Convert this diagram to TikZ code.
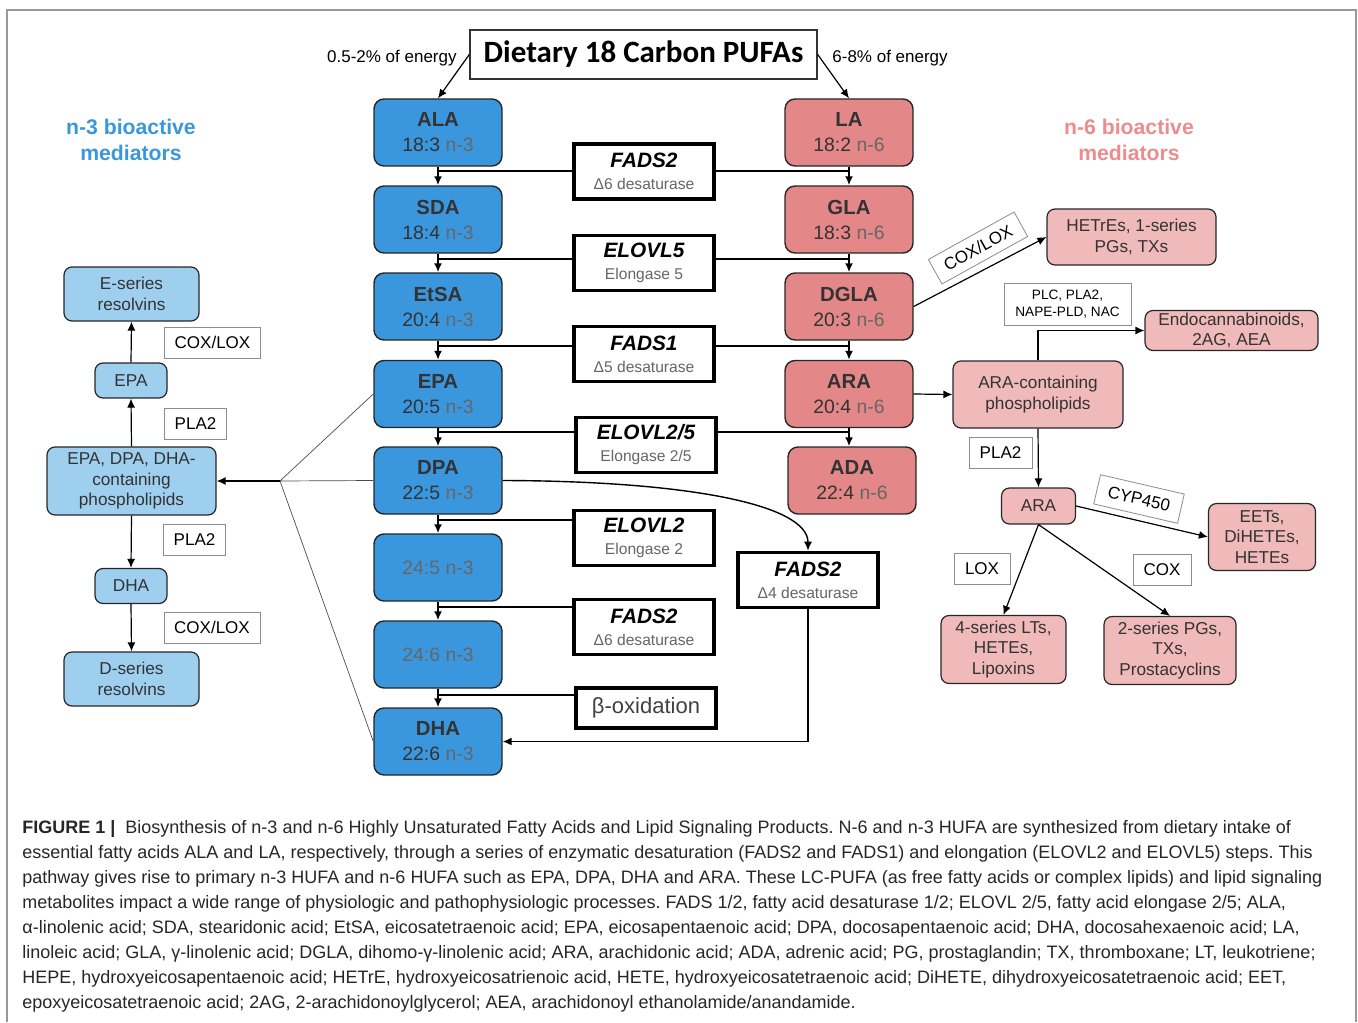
\documentclass[tikz,border=0pt]{standalone}
\usepackage{fontspec}
\setmainfont{Liberation Sans}
\newfontfamily\titlefont{Carlito}
\usetikzlibrary{arrows.meta}
\definecolor{nblue}{HTML}{3B97DD}
\definecolor{nred}{HTML}{E48788}
\definecolor{lblue}{HTML}{9FCFEF}
\definecolor{lpink}{HTML}{F0B9BA}
\definecolor{hblue}{HTML}{3A97DB}
\definecolor{hred}{HTML}{EC8C8E}
\definecolor{tdark}{HTML}{333333}
\definecolor{ngray}{HTML}{666666}
\newcommand{\facid}[3]{{\bfseries\fontsize{10.2}{12.5}\selectfont #1}\\#2 \textcolor{ngray}{#3}}
\newcommand{\enzlabel}[2]{{\bfseries\itshape #1}\\{\color{ngray}\fontsize{7.8}{9}\selectfont #2}}
\frenchspacing
\begin{document}
\begin{tikzpicture}[x=0.5pt,y=-0.5pt,>={Latex[length=4.5pt,width=4pt]},
  fathree/.style={draw=black!85,line width=0.7pt,rounded corners=5pt,fill=nblue,minimum width=64pt,minimum height=33.5pt,inner sep=0pt,align=center,text=tdark,font=\fontsize{9.7}{12.5}\selectfont},
  fasix/.style={fathree,fill=nred},
  enzbox/.style={draw,line width=1.8pt,fill=white,minimum width=70pt,minimum height=27.5pt,inner sep=0pt,align=center,font=\fontsize{10.4}{11}\selectfont},
  medthree/.style={draw=black!85,line width=0.6pt,rounded corners=4pt,fill=lblue,inner sep=0pt,align=center,text=tdark,font=\fontsize{8.6}{10.3}\selectfont},
  medsix/.style={medthree,fill=lpink},
  labbox/.style={draw=black!45,line width=0.4pt,fill=white,inner sep=0pt,font=\fontsize{8.5}{10}\selectfont},
  link/.style={line width=0.7pt},
  famove/.style={->,line width=1.3pt},
  thinarrow/.style={->,line width=0.6pt}]
\useasboundingbox (0,0) rectangle (1358,1022);
\draw[black!40,line width=0.6pt] (7,1022) -- (7,10) -- (1356,10) -- (1356,1022);

\node[draw=black!80,line width=0.7pt,minimum width=173.5pt,minimum height=24.5pt,inner sep=0pt,font=\titlefont\bfseries\fontsize{15.5}{18}\selectfont] (title) at (643.5,54.5) {Dietary 18 Carbon PUFAs};
\node[anchor=east,inner sep=0pt,font=\fontsize{8.5}{10}\selectfont] (lowE) at (457,58) {0.5-2\% of energy};
\node[anchor=west,inner sep=0pt,font=\fontsize{8.5}{10}\selectfont] (highE) at (832,58) {6-8\% of energy};
\node[text=hblue,align=center,font=\bfseries\fontsize{10.6}{13}\selectfont] (headthree) at (131,140) {n-3 bioactive\\mediators};
\node[text=hred,align=center,font=\bfseries\fontsize{10.6}{13}\selectfont] (headsix) at (1129,140) {n-6 bioactive\\mediators};

\node[fathree] (ALA) at (438,132.5) {\facid{ALA}{18:3}{n-3}};
\node[fathree] (SDA) at (438,219.5) {\facid{SDA}{18:4}{n-3}};
\node[fathree] (EtSA) at (438,306.5) {\facid{EtSA}{20:4}{n-3}};
\node[fathree] (EPA) at (438,394) {\facid{EPA}{20:5}{n-3}};
\node[fathree] (DPA) at (438,480.5) {\facid{DPA}{22:5}{n-3}};
\node[fathree] (tetrafive) at (438,567.5) {\textcolor{ngray}{24:5 n-3}};
\node[fathree] (tetrasix) at (438,654.5) {\textcolor{ngray}{24:6 n-3}};
\node[fathree] (DHA) at (438,741.5) {\facid{DHA}{22:6}{n-3}};

\node[fasix] (LA) at (849,132.5) {\facid{LA}{18:2}{n-6}};
\node[fasix] (GLA) at (849,219.5) {\facid{GLA}{18:3}{n-6}};
\node[fasix] (DGLA) at (849,306.5) {\facid{DGLA}{20:3}{n-6}};
\node[fasix] (ARA) at (849,394) {\facid{ARA}{20:4}{n-6}};
\node[fasix] (ADA) at (852,480.5) {\facid{ADA}{22:4}{n-6}};

\node[enzbox] (fadsA) at (644,171.5) {\enzlabel{FADS2}{Δ6 desaturase}};
\node[enzbox] (elovlA) at (644,263) {\enzlabel{ELOVL5}{Elongase 5}};
\node[enzbox] (fadsB) at (644,354) {\enzlabel{FADS1}{Δ5 desaturase}};
\node[enzbox] (elovlB) at (646,445) {\enzlabel{ELOVL2/5}{Elongase 2/5}};
\node[enzbox] (elovlC) at (644,538) {\enzlabel{ELOVL2}{Elongase 2}};
\node[enzbox] (fadsC) at (644,627) {\enzlabel{FADS2}{Δ6 desaturase}};
\node[enzbox,minimum height=20pt,text=black!75,font=\fontsize{11}{12}\selectfont] (betaox) at (646,708) {β-oxidation};
\node[enzbox] (fadsD) at (808,580) {\enzlabel{FADS2}{Δ4 desaturase}};

\node[medthree,minimum width=67.5pt,minimum height=27pt] (eres) at (131.5,294) {E-series\\resolvins};
\node[medthree,minimum width=36pt,minimum height=17.5pt] (epaS) at (131,380.5) {EPA};
\node[medthree,minimum width=84.5pt,minimum height=34pt] (phos) at (131.5,481) {EPA, DPA, DHA-\\containing\\phospholipids};
\node[medthree,minimum width=36pt,minimum height=17.5pt] (dhaS) at (131,586) {DHA};
\node[medthree,minimum width=67.5pt,minimum height=27pt] (dres) at (131.5,679) {D-series\\resolvins};
\node[labbox,minimum width=48pt,minimum height=15.5pt] (coxA) at (212.5,342.5) {COX/LOX};
\node[labbox,minimum width=31pt,minimum height=15.5pt] (plaA) at (195.5,423.5) {PLA2};
\node[labbox,minimum width=31pt,minimum height=15.5pt] (plaB) at (194.5,539.5) {PLA2};
\node[labbox,minimum width=48pt,minimum height=15.5pt] (coxB) at (212,627.5) {COX/LOX};

\node[medsix,minimum width=84.5pt,minimum height=28pt] (hetre) at (1131.5,237) {HETrEs, 1-series\\PGs, TXs};
\node[labbox,rotate=29,minimum width=49pt,minimum height=14pt] (coxC) at (978,248) {COX/LOX};
\node[labbox,minimum width=63.5pt,minimum height=21pt,align=center,font=\fontsize{6.8}{8.5}\selectfont] (plc) at (1067.5,304) {PLC, PLA2,\\NAPE-PLD, NAC};
\node[medsix,minimum width=86.5pt,minimum height=20pt] (endo) at (1231.5,330.5) {Endocannabinoids,\\2AG, AEA};
\node[medsix,minimum width=85pt,minimum height=33.5pt] (araP) at (1038,394.5) {ARA-containing\\phospholipids};
\node[labbox,minimum width=31.5pt,minimum height=15.5pt] (plaC) at (1000.5,452.5) {PLA2};
\node[medsix,minimum width=37pt,minimum height=18pt] (araS) at (1038.5,506) {ARA};
\node[labbox,rotate=-13,minimum width=43pt,minimum height=15pt] (cyp) at (1139,499) {CYP450};
\node[medsix,minimum width=53.5pt,minimum height=33.5pt] (eets) at (1262,537) {EETs,\\DiHETEs,\\HETEs};
\node[labbox,minimum width=28pt,minimum height=15.5pt] (lox) at (982,568.5) {LOX};
\node[labbox,minimum width=29pt,minimum height=15.5pt] (coxD) at (1162,569.5) {COX};
\node[medsix,minimum width=62.5pt,minimum height=34pt] (fourS) at (1003.5,649.5) {4-series LTs,\\HETEs,\\Lipoxins};
\node[medsix,minimum width=66pt,minimum height=34pt] (twoS) at (1170,650.5) {2-series PGs,\\TXs,\\Prostacyclins};

\coordinate (jA) at (438,171);
\coordinate (jB) at (438,259);
\coordinate (jC) at (438,346);
\coordinate (jD) at (438,432);
\coordinate (jE) at (438,520);
\coordinate (jF) at (438,607);
\coordinate (jG) at (438,695);
\coordinate (hub) at (280,481);

\draw[thinarrow] (title.west) -- (ALA.north);
\draw[thinarrow] (title.east) -- (LA.north);
\draw[famove] (ALA.south) -- (SDA.north);
\draw[famove] (SDA.south) -- (EtSA.north);
\draw[famove] (EtSA.south) -- (EPA.north);
\draw[famove] (EPA.south) -- (DPA.north);
\draw[famove] (DPA.south) -- (tetrafive.north);
\draw[famove] (tetrafive.south) -- (tetrasix.north);
\draw[famove] (tetrasix.south) -- (DHA.north);
\draw[famove] (LA.south) -- (GLA.north);
\draw[famove] (GLA.south) -- (DGLA.north);
\draw[famove] (DGLA.south) -- (ARA.north);
\draw[famove] (ARA.south) -- (ARA.south |- ADA.north);
\draw[link] (jA) -- (jA -| fadsA.west) (jA -| fadsA.east) -- (jA -| LA.south);
\draw[link] (jB) -- (jB -| elovlA.west) (jB -| elovlA.east) -- (jB -| GLA.south);
\draw[link] (jC) -- (jC -| fadsB.west) (jC -| fadsB.east) -- (jC -| DGLA.south);
\draw[link] (jD) -- (jD -| elovlB.west) (jD -| elovlB.east) -- (jD -| ARA.south);
\draw[link] (jE) -- (jE -| elovlC.west);
\draw[link] (jF) -- (jF -| fadsC.west);
\draw[link] (jG) -- (jG -| betaox.west);
\draw[->,link] (DPA.east) .. controls (690,481) and (808,505) .. (fadsD.north);
\draw[->,link] (fadsD.south) |- (DHA.east);

\draw[black!70,line width=0.35pt] (EPA.west) -- (hub) -- (DHA.west) (DPA.west) -- (hub);
\draw[->,link] (hub) -- (phos.east);
\draw[thinarrow] (epaS.north) -- (eres.south);
\draw[thinarrow] (phos.north) -- (epaS.south);
\draw[thinarrow] (phos.south) -- (dhaS.north);
\draw[thinarrow] (dhaS.south) -- (dres.north);

\draw[thinarrow] (DGLA.east) -- (hetre.west);
\draw[thinarrow] (ARA.east) -- (araP.west);
\draw[thinarrow] (araP.north) |- (endo.west);
\draw[thinarrow] (araP.south) -- (araS.north);
\draw[thinarrow] (araS.east) -- (eets.west);
\draw[thinarrow] (araS.south) -- (fourS.north);
\draw[thinarrow] (araS.south) -- (twoS.north);

\node[anchor=north west,align=left,inner sep=0pt,text=black!85,font=\fontsize{9}{12.5}\selectfont] (caption) at (22,820) {\textbf{FIGURE 1 |}\ \ Biosynthesis of n-3 and n-6 Highly Unsaturated Fatty Acids and Lipid Signaling Products. N-6 and n-3 HUFA are synthesized from dietary intake of\\
essential fatty acids ALA and LA, respectively, through a series of enzymatic desaturation (FADS2 and FADS1) and elongation (ELOVL2 and ELOVL5) steps. This\\
pathway gives rise to primary n-3 HUFA and n-6 HUFA such as EPA, DPA, DHA and ARA. These LC-PUFA (as free fatty acids or complex lipids) and lipid signaling\\
metabolites impact a wide range of physiologic and pathophysiologic processes. FADS 1/2, fatty acid desaturase 1/2; ELOVL 2/5, fatty acid elongase 2/5; ALA,\\
α-linolenic acid; SDA, stearidonic acid; EtSA, eicosatetraenoic acid; EPA, eicosapentaenoic acid; DPA, docosapentaenoic acid; DHA, docosahexaenoic acid; LA,\\
linoleic acid; GLA, γ-linolenic acid; DGLA, dihomo-γ-linolenic acid; ARA, arachidonic acid; ADA, adrenic acid; PG, prostaglandin; TX, thromboxane; LT, leukotriene;\\
HEPE, hydroxyeicosapentaenoic acid; HETrE, hydroxyeicosatrienoic acid, HETE, hydroxyeicosatetraenoic acid; DiHETE, dihydroxyeicosatetraenoic acid; EET,\\
epoxyeicosatetraenoic acid; 2AG, 2-arachidonoylglycerol; AEA, arachidonoyl ethanolamide/anandamide.};
\end{tikzpicture}
\end{document}
